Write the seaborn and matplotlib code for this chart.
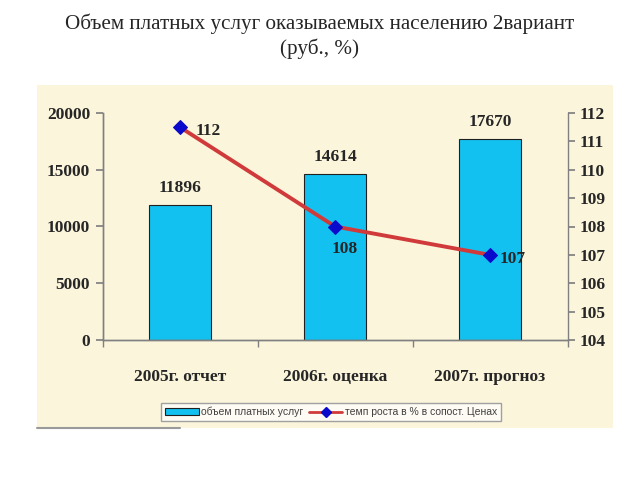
import matplotlib
matplotlib.use('Agg')
import matplotlib.pyplot as plt
import matplotlib.patches as mpatches
import matplotlib.lines as mlines
import pandas as pd
import seaborn as sns

# chart data
categories = ["2005г. отчет", "2006г. оценка", "2007г. прогноз"]
volume = [11896, 14614, 17670]
growth = [111.5, 108.0, 107.0]
bar_name = "объем платных услуг"
line_name = "темп роста в % в сопост. Ценах"
title = "Объем платных услуг оказываемых населению 2вариант\n(руб., %)"

sns.set_theme(style="white")
plt.rcParams['font.family'] = ['Liberation Serif', 'DejaVu Serif']

panel_color = "#FBF5DB"
bar_color = "#13C1F0"
line_color = "#D03A3A"
marker_color = "#0A0ACC"
axis_color = "#808080"

df = pd.DataFrame({"cat": categories, "volume": volume, "growth": growth})

fig = plt.figure(figsize=(6.4, 4.8), dpi=100)
fig.patch.set_facecolor("white")

# cream chart panel behind the axes
panel = mpatches.Rectangle((37 / 640, 1 - 428 / 480), (613 - 37) / 640, (428 - 85) / 480,
                           transform=fig.transFigure, facecolor=panel_color, edgecolor="none", zorder=-10)
fig.add_artist(panel)
fig.add_artist(mlines.Line2D([37 / 640, 180 / 640], [1 - 428 / 480] * 2, color="#9a9a9a", lw=1.5, zorder=-9))

fig.text(0.5, 1 - 36 / 480, title, ha="center", va="center", fontsize=15.2, linespacing=1.3)

ax = fig.add_axes([102.5 / 640, 1 - 340 / 480, 465 / 640, 227 / 480])
ax.set_facecolor("none")
sns.barplot(data=df, x="cat", y="volume", color=bar_color, width=0.4,
            edgecolor="#202020", linewidth=0.8, saturation=1, ax=ax)
ax.set_ylim(0, 20000)
ax.set_xlim(-0.5, 2.5)
ax.set_yticks([0, 5000, 10000, 15000, 20000])
ax.set_xlabel("")
ax.set_ylabel("")
for i, v in enumerate(volume):
    ax.text(i, v + 800, str(v), ha="center", va="bottom", fontsize=12.5, fontweight="bold")

ax.set_xticks([0, 1, 2])
ax.set_xticklabels(categories, fontsize=12.5, fontweight="bold")
ax.set_xticks([-0.5, 0.5, 1.5, 2.5], minor=True)
ax.tick_params(axis="x", which="major", length=0, pad=21)
ax.tick_params(axis="x", which="minor", length=5, color=axis_color, direction="out", bottom=True)
ax.tick_params(axis="y", length=5, color=axis_color, direction="out", left=True, pad=4, labelsize=12.5)
for lab in ax.get_yticklabels():
    lab.set_fontweight("bold")

ax2 = ax.twinx()
ax2.set_facecolor("none")
sns.lineplot(data=df, x="cat", y="growth", color=line_color, linewidth=2.8,
             marker="D", markersize=7, markerfacecolor=marker_color, markeredgecolor=marker_color,
             ax=ax2)
ax2.set_ylim(104, 112)
ax2.set_yticks(range(104, 113))
ax2.set_xlim(-0.5, 2.5)
ax2.set_ylabel("")
ax2.tick_params(axis="y", length=5, color=axis_color, direction="out", right=True, pad=4, labelsize=12.5)
for lab in ax2.get_yticklabels():
    lab.set_fontweight("bold")

offsets = [(0.1, -0.15, "left", "center"), (0.06, -0.5, "center", "top"), (0.06, -0.15, "left", "center")]
for i, g in enumerate(growth):
    dx, dy, ha, va = offsets[i]
    ax2.text(i + dx, g + dy, f"{g:.0f}", ha=ha, va=va, fontsize=12.5, fontweight="bold")

for a in (ax, ax2):
    a.spines["top"].set_visible(False)
    for s in ("left", "right", "bottom"):
        a.spines[s].set_color(axis_color)
        a.spines[s].set_linewidth(1.0)
ax.spines["right"].set_visible(False)

handles = [mpatches.Patch(facecolor=bar_color, edgecolor="#202020", linewidth=0.8, label=bar_name),
           mlines.Line2D([], [], color=line_color, lw=2, marker="D", markersize=5,
                         markerfacecolor=marker_color, markeredgecolor=marker_color, label=line_name)]
fig.legend(handles=handles, loc="center", bbox_to_anchor=(331 / 640, 1 - 412 / 480), ncol=2,
           prop={"family": "Liberation Sans", "size": 7.5}, frameon=True, fancybox=False,
           edgecolor="#a0a0a0", facecolor="#fdfbf3", framealpha=1, handlelength=3.2,
           handletextpad=0.2, columnspacing=0.6, borderpad=0.4, labelcolor="#404040")

fig.savefig("out.png", dpi=100)
